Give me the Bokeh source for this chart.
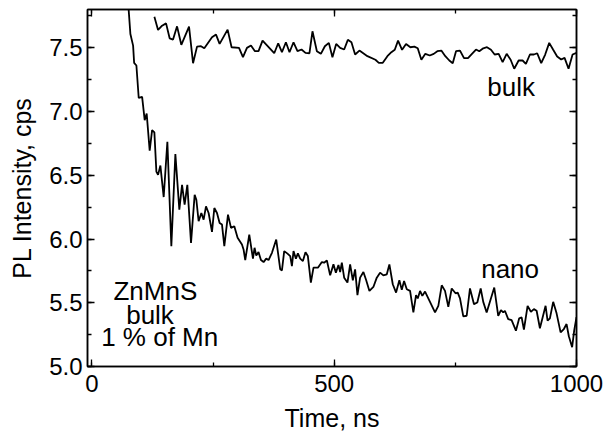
from bokeh.plotting import figure
from bokeh.models import (Range1d, LinearAxis, SingleIntervalTicker, NumeralTickFormatter,
                          CustomJSTickFormatter, Label)
from bokeh.embed import file_html
from bokeh.resources import INLINE

# ---- data ----
bulk_t = [129.0, 136.6, 144.9, 153.1, 160.5, 167.5, 175.8, 184.6, 200.5, 208.8,
          217.0, 225.2, 232.0, 247.9, 256.2, 263.6, 280.1, 288.3, 303.6, 311.8,
          320.0, 328.3, 336.5, 343.9, 352.2, 368.1, 376.3, 384.5, 392.2, 400.4,
          407.8, 416.1, 424.3, 432.6, 440.8, 449.0, 455.2, 464.3, 472.5, 480.8,
          489.0, 496.4, 504.1, 512.3, 520.6, 528.2, 535.6, 543.2, 552.1, 568.6,
          585.1, 592.1, 600.3, 609.8, 618.0, 625.0, 631.8, 640.1, 648.3, 657.2,
          665.4, 672.4, 679.9, 688.1, 697.2, 705.4, 712.8, 721.1, 729.3, 737.6,
          744.6, 751.4, 759.6, 767.9, 776.1, 784.3, 792.6, 799.4, 807.6, 815.3,
          823.5, 831.1, 839.4, 847.6, 855.9, 864.1, 871.5, 880.6, 888.8, 895.6,
          903.9, 912.1, 918.9, 927.2, 935.4, 943.7, 951.9, 960.1, 968.4, 975.4,
          983.6, 991.9, 1000.0]
bulk_pl = [7.743, 7.640, 7.673, 7.691, 7.574, 7.564, 7.668, 7.523, 7.665, 7.379,
           7.509, 7.512, 7.496, 7.582, 7.603, 7.530, 7.642, 7.504, 7.499, 7.426,
           7.499, 7.517, 7.473, 7.473, 7.556, 7.491, 7.457, 7.535, 7.465, 7.543,
           7.465, 7.543, 7.473, 7.486, 7.460, 7.457, 7.629, 7.473, 7.452, 7.512,
           7.538, 7.426, 7.530, 7.499, 7.486, 7.562, 7.543, 7.447, 7.478, 7.434,
           7.406, 7.382, 7.382, 7.434, 7.465, 7.484, 7.556, 7.484, 7.530, 7.504,
           7.509, 7.496, 7.406, 7.452, 7.439, 7.452, 7.473, 7.478, 7.434, 7.400,
           7.379, 7.473, 7.478, 7.418, 7.418, 7.452, 7.486, 7.473, 7.496, 7.504,
           7.484, 7.447, 7.452, 7.387, 7.452, 7.406, 7.335, 7.400, 7.400, 7.374,
           7.447, 7.447, 7.457, 7.379, 7.447, 7.538, 7.484, 7.431, 7.408, 7.421,
           7.335, 7.447, 7.460]

nano_t = [74.0, 79.5, 85.1, 87.2, 91.9, 96.7, 103.7, 109.0, 113.1, 119.3,
          124.3, 129.0, 133.1, 136.6, 141.4, 148.2, 155.8, 164.0, 172.3, 180.5,
          186.1, 191.4, 197.0, 204.6, 212.1, 215.6, 220.3, 225.9, 230.6, 235.5,
          240.9, 247.9, 252.7, 258.2, 263.6, 268.5, 273.3, 280.9, 287.1, 293.9,
          300.7, 309.7, 313.0, 316.5, 324.8, 332.4, 335.7, 339.2, 343.9, 348.9,
          354.3, 359.8, 364.6, 371.6, 380.4, 388.7, 392.2, 396.9, 403.7, 409.3,
          412.8, 416.1, 421.0, 425.1, 429.9, 435.5, 440.8, 445.7, 451.9, 457.3,
          466.4, 474.6, 479.3, 484.9, 491.7, 498.5, 503.5, 508.8, 512.3, 515.8,
          520.6, 527.4, 532.9, 538.5, 543.2, 548.0, 553.5, 560.3, 565.9, 572.7,
          580.9, 587.9, 594.7, 601.5, 608.6, 613.9, 620.9, 627.7, 634.5, 639.5,
          644.2, 649.8, 656.6, 663.4, 668.9, 672.4, 677.2, 681.9, 687.5, 695.7,
          708.1, 714.9, 721.9, 728.7, 735.5, 742.5, 750.8, 754.9, 759.6, 766.4,
          773.4, 780.2, 788.5, 795.3, 802.3, 807.6, 814.6, 830.3, 838.5, 844.1,
          848.8, 852.3, 859.1, 866.1, 875.0, 881.8, 886.8, 891.5, 899.1, 905.9,
          912.1, 917.7, 924.5, 932.7, 936.2, 940.3, 945.1, 951.9, 958.9, 967.2,
          973.9, 979.5, 984.2, 991.0, 995.2, 1000.0]
nano_pl = [7.900, 7.608, 7.517, 7.382, 7.361, 7.106, 7.114, 6.932, 6.984, 6.693,
           6.854, 6.836, 6.529, 6.503, 6.576, 6.329, 6.763, 5.944, 6.667, 6.230,
           6.425, 6.269, 6.425, 5.970, 6.347, 6.308, 6.139, 6.204, 6.152, 6.256,
           6.204, 6.056, 6.243, 6.204, 6.126, 6.113, 5.944, 6.191, 6.087, 6.100,
           6.009, 5.957, 5.918, 5.835, 6.035, 5.846, 5.931, 5.871, 5.897, 5.835,
           5.819, 5.846, 5.835, 5.892, 5.996, 5.762, 5.754, 5.905, 5.885, 5.866,
           5.788, 5.905, 5.846, 5.887, 5.846, 5.827, 5.897, 5.866, 5.658, 5.775,
           5.775, 5.819, 5.814, 5.832, 5.715, 5.801, 5.736, 5.796, 5.741, 5.814,
           5.697, 5.658, 5.801, 5.676, 5.762, 5.559, 5.697, 5.741, 5.679, 5.593,
           5.624, 5.697, 5.736, 5.715, 5.723, 5.801, 5.645, 5.580, 5.676, 5.601,
           5.671, 5.606, 5.593, 5.424, 5.559, 5.534, 5.593, 5.554, 5.588, 5.523,
           5.424, 5.476, 5.637, 5.593, 5.468, 5.612, 5.573, 5.580, 5.534, 5.393,
           5.398, 5.612, 5.489, 5.502, 5.612, 5.507, 5.424, 5.619, 5.398, 5.442,
           5.424, 5.437, 5.372, 5.364, 5.281, 5.378, 5.385, 5.289, 5.476, 5.429,
           5.450, 5.437, 5.300, 5.424, 5.476, 5.359, 5.378, 5.507, 5.417, 5.268,
           5.294, 5.333, 5.237, 5.151, 5.281, 5.388]

x_label = "Time, ns"
y_label = "PL Intensity, cps"

FONT = "Liberation Sans"

p = figure(width=612, height=434, output_backend="svg", toolbar_location=None,
           x_range=Range1d(-9, 1000), y_range=Range1d(5.0, 7.8),
           min_border_left=87, min_border_right=36, min_border_top=9,
           min_border_bottom=66)
p.xgrid.visible = False
p.ygrid.visible = False
p.outline_line_color = "black"
p.outline_line_width = 1.5
p.background_fill_color = "white"
p.border_fill_color = "white"

def style(ax, show_labels):
    ax.axis_line_color = "black"
    ax.axis_line_width = 1.5
    ax.major_tick_in = 7
    ax.major_tick_out = 0
    ax.minor_tick_in = 4
    ax.minor_tick_out = 0
    ax.major_tick_line_color = "black"
    ax.major_tick_line_width = 1.3
    ax.minor_tick_line_color = "black"
    ax.minor_tick_line_width = 1.3
    if show_labels:
        ax.major_label_text_font = FONT
        ax.major_label_text_font_size = "24px"
        ax.major_label_text_color = "black"
        ax.axis_label_text_font = FONT
        ax.axis_label_text_font_size = "25px"
        ax.axis_label_text_font_style = "normal"
        ax.axis_label_text_color = "black"
    else:
        ax.formatter = CustomJSTickFormatter(code="return '';")
        ax.major_label_text_font_size = "1px"
        ax.major_label_standoff = 0

xa = p.xaxis[0]
xa.ticker = SingleIntervalTicker(interval=500, num_minor_ticks=2)
xa.axis_label = x_label
style(xa, True)
xa.major_label_standoff = 8
xa.axis_label_standoff = 9

ya = p.yaxis[0]
ya.ticker = SingleIntervalTicker(interval=0.5, num_minor_ticks=2)
ya.formatter = NumeralTickFormatter(format="0.0")
ya.axis_label = y_label
style(ya, True)
ya.major_label_standoff = 5
ya.axis_label_standoff = 10

top = LinearAxis(ticker=SingleIntervalTicker(interval=500, num_minor_ticks=2))
style(top, False)
p.add_layout(top, "above")
right = LinearAxis(ticker=SingleIntervalTicker(interval=0.5, num_minor_ticks=2))
style(right, False)
p.add_layout(right, "right")

p.line(bulk_t, bulk_pl, line_color="black", line_width=1.8)
p.line(nano_t, nano_pl, line_color="black", line_width=1.8)

annotations = [
    ("bulk", 865, 7.19),
    ("nano", 863, 5.765),
    ("ZnMnS", 131, 5.595),
    ("bulk", 120, 5.405),
    ("1 % of Mn", 140, 5.228),
]
for txt, x, y in annotations:
    p.add_layout(Label(x=x, y=y, text=txt, text_font=FONT, text_font_size="26px",
                       text_color="black", text_align="center",
                       text_baseline="alphabetic"))

open("out.html", "w").write(file_html(p, INLINE))
